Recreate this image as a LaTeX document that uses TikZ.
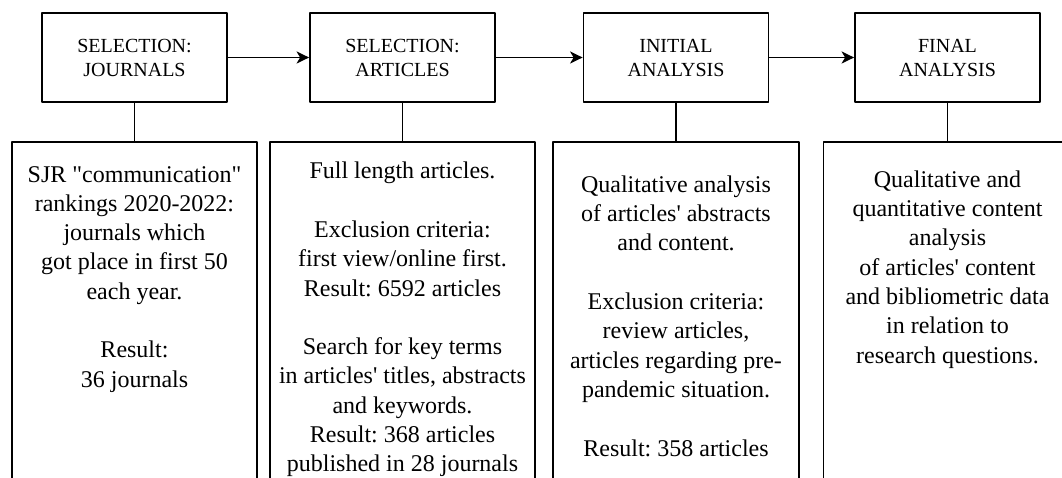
\documentclass[tikz,border=0pt]{standalone}
\usepackage{fontspec}
\setmainfont{Liberation Serif}[Ligatures=TeXOff]
\usetikzlibrary{arrows.meta}

\begin{document}
\frenchspacing
\begin{tikzpicture}[
  x=1pt,
  y=-1pt,
  line join=round,
  stage/.style={draw,line width=1.8pt,minimum width=185pt,minimum height=89pt,
    inner sep=0pt,align=center,font=\fontsize{20}{24}\selectfont},
  panel/.style={draw,line width=1.8pt,minimum height=370pt,anchor=north,inner sep=0pt},
  body/.style={anchor=north,inner sep=0pt,align=center,font=\fontsize{24}{29.3}\selectfont},
  flow/.style={line width=1.9pt,-{Stealth[length=12.5pt,width=12pt,inset=3.5pt]}},
  link/.style={line width=1.8pt}
]
  % The figure is a crop: the lower panels run past the bottom and right edges.
  \useasboundingbox (0,0) rectangle (1062,478);
  \clip (0,0) rectangle (1062,478);

  % Stage boxes along the top row.
  \node[stage] (journals) at (134.5,57.5) {SELECTION:\\JOURNALS};
  \node[stage] (articles) at (402.5,57.5) {SELECTION:\\ARTICLES};
  \node[stage] (initial)  at (676,57.5)   {INITIAL\\ANALYSIS};
  \node[stage] (final)    at (947.5,57.5) {FINAL\\ANALYSIS};

  % Description panels under each stage.
  \node[panel,minimum width=245.5pt] (jpanel) at (134.5,141) {};
  \node[panel,minimum width=265.5pt] (apanel) at (402.5,141) {};
  \node[panel,minimum width=246pt]   (ipanel) at (676,141)   {};
  \node[panel,minimum width=248pt]   (fpanel) at (947.5,141) {};

  % Panel texts.
  \node[body] (jtext) at (134.5,166) {SJR "communication"\\rankings 2020-2022:\\journals which\\
    got place in first 50\\each year.\\[29.3pt]Result:\\36 journals};
  \node[body] (atext) at (402.5,162) {Full length articles.\\[29.3pt]Exclusion criteria:\\
    first view/online first.\\Result: 6592 articles\\[29.3pt]Search for key terms\\
    in articles' titles, abstracts\\and keywords.\\Result: 368 articles\\published in 28 journals};
  \node[body] (itext) at (676,175.5) {Qualitative analysis\\of articles' abstracts\\and content.\\[29.3pt]
    Exclusion criteria:\\review articles,\\articles regarding pre-\\pandemic situation.\\[29.3pt]
    Result: 358 articles};
  \node[body] (ftext) at (947.5,170.5) {Qualitative and\\quantitative content\\analysis\\
    of articles' content\\and bibliometric data\\in relation to\\research questions.};

  % Flow between stages.
  \foreach \a/\b in {journals/articles,articles/initial,initial/final} {
    \draw[flow] (\a) -- (\b);
  }

  % Each stage hangs its panel.
  \foreach \a/\b in {journals/jpanel,articles/apanel,initial/ipanel,final/fpanel} {
    \draw[link] (\a) -- (\b);
  }
\end{tikzpicture}
\end{document}
